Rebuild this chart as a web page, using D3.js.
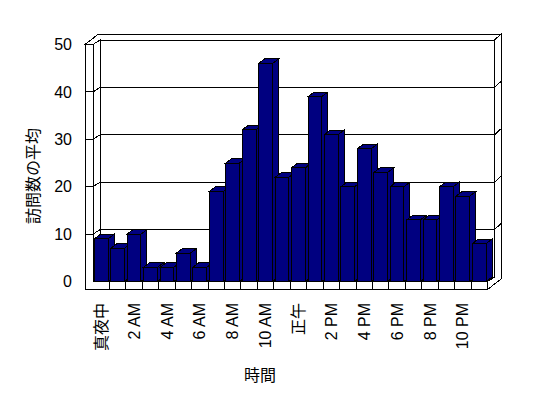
<!DOCTYPE html>
<html>
<head>
<meta charset="utf-8">
<script src="https://cdn.jsdelivr.net/npm/d3@7"></script>
<style>
  body { margin: 0; background: #fff; }
  text { font-family: "Liberation Sans", "Noto Sans CJK JP", sans-serif; }
</style>
</head>
<body>
<svg></svg>
<script>
// data
const categories = ["真夜中", "1 AM", "2 AM", "3 AM", "4 AM", "5 AM", "6 AM", "7 AM", "8 AM", "9 AM", "10 AM", "11 AM",
                    "正午", "1 PM", "2 PM", "3 PM", "4 PM", "5 PM", "6 PM", "7 PM", "8 PM", "9 PM", "10 PM", "11 PM"];
const visits = [9, 7, 10, 3, 3, 6, 3, 19, 25, 32, 46, 22, 24, 39, 31, 20, 28, 23, 20, 13, 13, 20, 18, 8];
const yTicks = [0, 10, 20, 30, 40, 50];
const xTickLabels = categories.filter((d, i) => i % 2 === 0);
const yTitle = "訪問数の平均";
const xTitle = "時間";

const SVGsize = {w: 548, h: 398};
const plot = {l: 93, r: 487.5, t: 44.5, b: 281.5};
const depth = [7, -4.5];      // front -> back of plot
const wallT = [6.5, -6];      // back wall thickness
const barD = [6, -4.5];       // bar depth
const sideW = 8;              // left wall / floor thickness

const svg = d3.select('svg')
    .attr('width', SVGsize.w)
    .attr('height', SVGsize.h)
    .style('shape-rendering', 'crispEdges');

const scaleX = d3.scaleBand()
    .domain(categories)
    .range([plot.l, plot.r])
    .paddingInner(0.16)
    .paddingOuter(0.08);

const scaleY = d3.scaleLinear()
    .domain([0, 50])
    .range([plot.b, plot.t]);

const poly = pts => "M" + pts.map(p => p.join(",")).join("L") + "Z";
const shell = svg.append("g").attr("fill", "#fff").attr("stroke", "#000");

const dx = depth[0], dy = depth[1];
const backTop = scaleY(50) + dy, backBot = plot.b + dy;

// back wall front face
shell.append("path").attr("d", poly([[plot.l + dx, backTop], [plot.r + dx, backTop], [plot.r + dx, backBot], [plot.l + dx, backBot]]));
// top of walls
shell.append("path").attr("d", poly([
    [plot.l - sideW, plot.t], [plot.l, plot.t], [plot.l + dx, backTop], [plot.r + dx, backTop],
    [plot.r + dx + wallT[0], backTop + wallT[1]], [plot.l - sideW + dx + wallT[0], backTop + wallT[1]]]));
// right side of back wall + floor
shell.append("path").attr("d", poly([
    [plot.r + dx, backTop], [plot.r + dx + wallT[0], backTop + wallT[1]],
    [plot.r + dx + wallT[0], plot.b + sideW + dy + wallT[1]], [plot.r, plot.b + sideW],
    [plot.r, plot.b], [plot.r + dx, backBot]]));
// left wall inner face
shell.append("path").attr("d", poly([[plot.l, plot.t], [plot.l + dx, backTop], [plot.l + dx, backBot], [plot.l, plot.b]]));
// floor top
shell.append("path").attr("d", poly([[plot.l, plot.b], [plot.r, plot.b], [plot.r + dx, backBot], [plot.l + dx, backBot]]));
// front faces of left wall and floor
shell.append("path").attr("d", poly([
    [plot.l - sideW, plot.t], [plot.l, plot.t], [plot.l, plot.b], [plot.r, plot.b],
    [plot.r, plot.b + sideW], [plot.l - sideW, plot.b + sideW]]));

// gridlines
const grid = svg.append("g").attr("fill", "none").attr("stroke", "#000");
yTicks.filter(v => v > 0 && v < 50).forEach(v => {
    const y = scaleY(v);
    grid.append("path").attr("d", d3.line()([
        [plot.l - sideW, y], [plot.l, y], [plot.l + dx, y + dy], [plot.r + dx, y + dy],
        [plot.r + dx + wallT[0], y + dy + wallT[1]]]));
});

// category ticks on floor front
d3.range(1, categories.length).forEach(i => {
    const x = plot.l + i * scaleX.step();
    grid.append("line").attr("x1", x).attr("x2", x).attr("y1", plot.b).attr("y2", plot.b + sideW);
});

// bars
const bw = scaleX.bandwidth();
const bars = svg.append("g").attr("fill", "#000080").attr("stroke", "#000");
categories.forEach((c, i) => {
    const x0 = scaleX(c), y0 = scaleY(visits[i]);
    const b = bars.append("g");
    b.append("path").attr("d", poly([[x0 + bw, y0], [x0 + bw + barD[0], y0 + barD[1]], [x0 + bw + barD[0], plot.b + barD[1]], [x0 + bw, plot.b]]));
    b.append("path").attr("d", poly([[x0, y0], [x0 + bw, y0], [x0 + bw + barD[0], y0 + barD[1]], [x0 + barD[0], y0 + barD[1]]]));
    b.append("rect").attr("x", x0).attr("y", y0).attr("width", bw).attr("height", plot.b - y0);
});

// axes (labels only)
const yAxis = svg.append("g")
    .attr("transform", `translate(${plot.l - sideW}, 0)`)
    .call(d3.axisLeft(scaleY).tickValues(yTicks).tickSize(0).tickPadding(13));
yAxis.select(".domain").remove();
yAxis.selectAll("text").style("font-size", "16px").attr("fill", "#000");

const xAxis = svg.append("g")
    .attr("transform", `translate(0, 303)`)
    .call(d3.axisBottom(scaleX).tickValues(xTickLabels).tickSize(0));
xAxis.select(".domain").remove();
xAxis.selectAll("text")
    .style("font-size", "16px")
    .attr("fill", "#000")
    .attr("text-anchor", "end")
    .attr("transform", "rotate(-90)")
    .attr("x", 0)
    .attr("y", 0)
    .attr("dy", "0.35em");

svg.append("text")
    .attr("transform", "translate(33, 176) rotate(-90)")
    .attr("text-anchor", "middle")
    .attr("dy", "0.35em")
    .style("font-size", "16px")
    .text(yTitle);

svg.append("text")
    .attr("x", 260)
    .attr("y", 375)
    .attr("text-anchor", "middle")
    .attr("dy", "0.35em")
    .style("font-size", "16px")
    .text(xTitle);
</script>
</body>
</html>
